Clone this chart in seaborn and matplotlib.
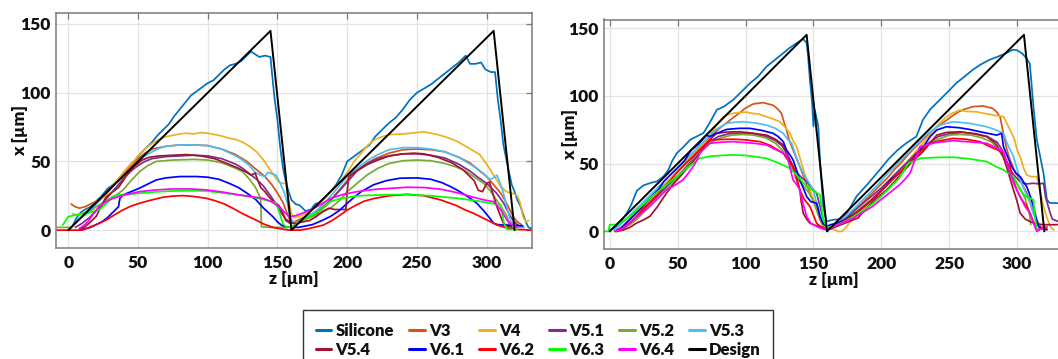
import numpy as np
import pandas as pd
import matplotlib
matplotlib.use("Agg")
import matplotlib.pyplot as plt
from matplotlib.lines import Line2D
import seaborn as sns

# ---------------- series names and colours ----------------
series_names = ["Silicone", "V3", "V4", "V5.1", "V5.2", "V5.3",
                "V5.4", "V6.1", "V6.2", "V6.3", "V6.4", "Design"]
series_colors = ["#0072BD", "#D95319", "#EDB120", "#7E2F8E", "#77AC30", "#4DBEEE",
                 "#A2142F", "#0000FF", "#FF0000", "#00FF00", "#FF00FF", "#000000"]

x_ticks = [0, 50, 100, 150, 200, 250, 300]
y_ticks = [0, 50, 100, 150]

# ---------------- design (both panels) ----------------
design_z = [0, 145, 160, 305, 320]
design_x = [0, 145, 0, 145, 0]

# ---------------- LEFT PANEL ----------------
L_silicone_z = [0, 3, 6, 9, 12, 16, 20, 24, 28, 32, 36, 40, 44, 48, 52, 56, 60, 64, 68, 72, 76, 80, 84, 88, 92, 96,
                100, 104, 108, 112, 116, 120, 124, 128, 131, 134, 137, 141, 145, 146, 148, 150, 152, 154, 156, 158,
                160, 163, 166, 170, 174, 177, 180, 184, 188, 192, 196, 200, 204, 208, 212, 216, 220, 226, 230, 235,
                240, 245, 250, 255, 260, 265, 270, 275, 280, 285, 288, 292, 296, 299, 303, 306, 308, 310, 312, 314,
                316, 318, 320, 322, 324, 326, 328, 330, 333]
L_silicone_x = [0, 3, 9, 13, 15, 17, 21, 25, 30, 33, 37, 42, 47, 51, 56, 60, 64, 69, 73, 77, 83, 88, 93, 98, 101, 104,
                107, 109, 113, 117, 120, 121, 123, 127, 130, 128, 126, 127, 126, 115, 95, 80, 60, 45, 35, 28,
                22, 19, 18, 14, 15, 19, 20, 24, 28, 33, 40, 50, 53, 56, 59, 62, 68, 74, 78, 82,
                88, 95, 100, 103, 106, 110, 114, 118, 122, 127, 121, 121, 122, 117, 115, 115, 95, 80, 62, 52,
                42, 33, 28, 22, 18, 12, 6, 2, 1]

L_v3_z = [2, 5, 8, 12, 16, 20, 24, 28, 32, 36, 40, 45, 50, 55, 60, 65, 70, 80, 90, 100, 110, 120, 128, 135, 141, 146,
          150, 154, 157, 159, 162, 166, 170, 175, 180, 185, 190, 195, 200, 205, 210, 215, 220, 230, 240, 250, 260,
          270, 280, 288, 295, 300, 305, 310, 313, 316, 319, 322, 325]
L_v3_x = [19, 17, 16, 17, 19, 21, 23, 27, 32, 37, 42, 47, 52, 56, 59, 60, 61, 62, 62, 61.5, 59, 55, 50, 44, 39, 33,
          27, 20, 12, 7, 6, 8, 10, 12, 15, 19, 24, 30, 36, 42, 46, 49, 52, 56, 58.5, 59, 58.5,
          57, 53, 49, 43, 39, 33, 27, 22, 16, 10, 6, 4]

L_v4_z = [3, 6, 10, 14, 18, 22, 26, 30, 34, 38, 42, 46, 50, 55, 60, 65, 70, 75, 80, 85, 90, 95, 100, 105, 110, 115,
          120, 125, 130, 135, 140, 144, 148, 151, 154, 156, 158, 160, 162, 166, 170, 175, 180, 185, 190, 195, 200,
          205, 210, 215, 220, 225, 230, 240, 250, 255, 260, 265, 270, 278, 285, 290, 295, 300, 305, 310, 314, 318,
          322, 324, 326, 328, 330]
L_v4_x = [12, 11, 12, 14, 17, 21, 25, 30, 35, 40, 45, 49, 54, 59, 63, 66, 68, 69, 70, 70.5, 70, 71, 70.5, 69.5, 68.5, 67,
          66, 64, 61, 57, 51, 45, 39, 35, 34, 34, 22, 12, 9, 10, 12, 15, 19, 24, 30, 35, 42,
          50, 56, 62, 66, 68, 69.5, 70, 71, 71.5, 70.5, 69.5, 68, 65, 61, 58, 55, 48, 40, 32, 28, 27,
          25, 20, 10, 6, 7]

L_v51_z = [5, 10, 15, 20, 25, 30, 35, 40, 45, 50, 55, 60, 70, 80, 90, 100, 110, 120, 125, 130, 135, 140, 145, 149, 153,
           156, 159, 163, 167, 172, 178, 185, 192, 200, 207, 215, 222, 230, 240, 250, 260, 270, 280, 288, 293, 300,
           307, 312, 317, 320, 324]
L_v51_x = [2, 5, 9, 14, 20, 26, 32, 38, 43, 47, 50, 52, 53.5, 54, 54.5, 54, 52, 48, 45, 41, 37, 32, 25, 19, 12,
           8, 6, 6, 7, 9, 12, 18, 26, 35, 43, 49, 52, 54, 55.5, 55.5, 54.5, 52.5, 48, 43, 39, 34,
           27, 20, 10, 6, 2]

L_v52_z = [-8, -2, 2, 5, 8, 12, 16, 20, 25, 30, 35, 39, 45, 51, 57, 63, 75, 90, 100, 110, 120, 125, 130, 134, 138,
           138.5, 145, 152, 158, 163, 168, 173, 180, 188, 195, 200, 207, 214, 222, 230, 240, 250, 260, 270, 278,
           285, 292, 298, 303, 307, 311, 314.6, 316, 318, 320]
L_v52_x = [2, 2, 2, 5, 8, 11, 14, 17, 20, 23, 26, 29, 36, 42.5, 47, 50, 51, 51.5, 51, 49, 45, 42.5, 37, 31.5, 23,
           2.5, 2, 2, 2, 4, 7, 9, 12, 16, 22, 28, 34, 40, 45, 48.5, 50.5, 51, 50.5, 48.5, 46,
           43, 38, 34, 28, 22, 16, 10, 4, 2, 1]

L_v53_z = [6, 10, 14, 18, 22, 26, 30, 35, 40, 45, 50, 55, 60, 65, 70, 80, 90, 100, 110, 120, 125, 130, 134, 138, 141,
           143, 146, 149, 152, 155, 157, 159, 161, 165, 170, 175, 180, 185, 190, 195, 200, 207, 215, 222, 230, 240,
           250, 260, 270, 280, 288, 293, 298, 302, 305, 307.4, 309, 312, 315, 317, 320, 325, 327]
L_v53_x = [7, 10, 13, 17, 21, 26, 30, 35, 40, 45, 50, 54, 57, 59.5, 61, 62, 62, 61.5, 59, 54, 51, 47, 42, 40, 39,
           42, 41, 40, 34, 27, 20, 10, 6, 6, 9, 12, 16, 21, 27, 33, 39, 45, 51, 55, 58.5, 60,
           60, 59, 57, 53, 48, 45, 41, 37, 38, 40, 36, 27, 15, 7, 3, 2, 2]

L_v54_z = [8, 12, 16, 20, 24, 27, 32, 36, 40, 44, 48, 53, 58, 65, 75, 85, 95, 105, 115, 122, 128, 131, 134, 136, 138,
           141, 144, 148, 151, 154, 156, 159, 163, 168, 173, 178, 183, 187, 191, 195, 199, 200, 201, 205, 210, 215,
           222, 230, 240, 248, 255, 265, 275, 283, 288, 291, 294, 297, 300, 302, 304, 307, 310, 312, 315, 318]
L_v54_x = [1, 2.5, 6, 10, 18, 24, 28, 31, 37, 43, 47, 51, 53, 54, 54.5, 55, 54, 52, 48, 45, 42, 40, 41.5, 36, 31,
           28, 24, 20, 18, 12, 7, 5, 5, 6, 7, 10, 14, 16, 15, 15, 15, 28, 39, 42, 45, 48,
           51, 54, 55.5, 56, 55.5, 53, 49, 44, 39, 36, 29, 28, 34, 35, 28, 18, 10, 5, 3, 2]

L_v61_z = [8, 12, 16, 20, 24, 28, 32, 35, 36, 37, 39, 45, 51, 57, 63, 70, 80, 92, 100, 108, 115.5, 122, 128, 134.7,
           140, 146.7, 150, 153, 156, 160, 165, 170, 175, 182, 188, 194, 200, 205, 210, 218.9, 228, 238, 250, 260,
           268, 274, 280, 287, 293, 298, 302, 305, 308, 312, 318, 322, 326]
L_v61_x = [0, 1, 2, 4, 6, 9, 13, 16, 17, 23, 25.5, 28, 30.5, 33.5, 36.5, 38, 39, 39, 38.5, 37, 34, 31, 27, 22,
           16, 9.8, 6, 3.5, 2.4, 2, 2, 3, 4, 7, 10, 14, 19.5, 24, 28, 33, 36, 37.8, 38, 37,
           34.5, 31.7, 28.5, 24, 19.5, 14, 9, 5, 4, 3.7, 3.5, 3.5, 3]

L_v62_z = [-8, 0, 5, 10, 15, 20, 27, 33, 39, 45, 51, 58, 67.7, 75, 82, 90, 98.8, 105, 112, 118, 125, 130, 134.7, 140,
           146.7, 152, 158.6, 166, 172, 178, 183, 190, 195, 200, 206, 212, 219, 230, 243, 255, 267, 278, 284,
           290.7, 297, 302, 307.4, 313, 318, 322, 333]
L_v62_x = [0, 0, 0, 0, 2, 4, 7.3, 11, 14.6, 17.5, 19.5, 21.5, 23.9, 24.8, 25.1, 24.5, 23.2, 21.5, 19, 15.9, 12, 9.5,
           7.3, 4.5, 2, 1, 0, 0, 1, 2.5, 3.7, 7.5, 11, 14.6, 18, 21, 23, 25, 26, 25, 22, 18, 15,
           12.2, 9, 6.5, 3.7, 2, 1, 0.5, 0]

L_v63_z = [-4, 0, 5, 10.3, 16, 22, 27, 31.8, 36, 42, 51, 62, 74.9, 90, 98.8, 110, 122.7, 132, 139.5, 145, 149, 151,
           153.8, 156, 160, 162, 166, 173.4, 180, 187.8, 195, 207, 220, 243, 260, 278.7, 295, 310, 311.5, 312.4,
           314.8, 322]
L_v63_x = [3.7, 9.8, 11, 12.2, 13, 14.6, 19, 24.4, 25.5, 26, 26.8, 27.8, 28.5, 28.7, 28.5, 27.2, 25.6, 24, 22.4, 21,
           19.5, 14, 4.9, 2.4, 2, 2.5, 7, 9.8, 14, 20.7, 23, 24.9, 25.5, 26, 25, 23.2, 21, 18.3, 10, 4.9,
           0.5, 0.5]

L_v64_z = [8, 12, 15, 18, 22, 27, 31.8, 40, 51, 62, 74.9, 88, 98.8, 110, 122.7, 132, 139.5, 145, 151.4, 155, 158.6,
           163, 167, 173.4, 180, 188, 197, 207, 220, 243, 255, 267, 280, 290.7, 298, 305, 310, 314.6, 318, 322]
L_v64_x = [1.2, 4, 7.3, 12, 17, 20.5, 23, 25.5, 28, 29.2, 30, 30, 29.3, 27.8, 25.6, 24.3, 23.2, 21, 17, 13, 9.8,
           10.5, 12, 14.6, 18, 23, 26, 28, 29.7, 31.2, 31, 29.8, 27, 23.9, 22, 20.7, 15, 7.3, 4, 2]

# ---------------- RIGHT PANEL ----------------
R_silicone_z = [0, 4, 8, 12.7, 16, 20, 25, 30, 35, 39.7, 43, 46, 49.5, 54, 59.3, 64, 69, 73, 78.9, 84, 91, 97, 103.4,
                109, 115.6, 121, 127.8, 132, 137.6, 142.5, 145, 146, 147.4, 149, 150, 151, 153.6, 155, 157.2, 159.7,
                164.6, 170, 175, 181.7, 190, 198.9, 205, 212, 218.5, 225.8, 230.7, 236, 243, 249, 255.2, 261, 267.4,
                273, 279.7, 286, 292, 296.8, 300, 304, 307, 309.3, 310.5, 312, 314.5, 317, 319.4, 321.9, 324, 330]
R_silicone_x = [1, 3, 7, 13.5, 20, 30, 34, 35.7, 37, 40.6, 45, 52, 57.8, 62, 67.6, 70, 72.5, 79, 89.7, 92, 97.1, 103,
                109.4, 114, 121.7, 126, 131.5, 135, 138.9, 141.9, 139, 130, 112, 95, 77.5, 89.7, 77.5, 50, 18.4, 7.4,
                8.6, 9, 14, 25.8, 35, 45.5, 53, 60, 65.2, 70, 82.4, 90, 97, 103, 109.4, 114, 119.3,
                123, 126.6, 129, 131.5, 134, 133.6, 131, 127.5, 123.8, 110, 92, 67.4, 55, 42.9, 23.3, 21, 20.8]

R_v3_z = [5, 10, 15, 20, 25, 30, 35, 40, 45, 50, 55, 60, 65, 70, 74, 78.6, 82, 86, 91, 95.8, 100, 105.7, 113, 120.4,
          124, 126.5, 128.5, 130.2, 132, 135, 140, 143.7, 146, 149.9, 152, 154.8, 157, 159.7, 163, 166, 170, 175,
          180, 185, 190, 195, 200, 205, 210, 215, 220, 225, 230, 235, 240.8, 248, 252, 256.5, 261, 267.3, 275,
          282, 285, 287.5, 289.9, 292, 294.8, 298, 302.2, 307.1, 310, 312, 315, 317, 320]
R_v3_x = [1, 4, 9, 14, 19, 24, 29, 34, 39, 44, 50, 55, 61, 66, 70, 74, 77, 80, 84, 87.5, 91, 94, 95, 93,
          90, 87, 80, 74.8, 68, 60, 47.8, 38, 32, 23.3, 17, 8.6, 4, 1.2, 2, 4, 6, 10,
          15, 20, 25, 30, 35, 40, 46, 51, 57, 62, 67, 72, 77, 82, 85, 88, 90, 92, 92.5,
          90.7, 88, 84.3, 72, 62, 52.5, 45, 38, 28.2, 20, 13.5, 7, 3.7, 2]

R_v4_z = [5, 10, 15, 20, 25, 30, 35, 40, 45, 50, 55, 60, 65, 70, 76.2, 80, 83.5, 88, 93.4, 100, 105.7, 110, 115.5,
          120, 125.3, 129, 132.7, 135, 137.6, 139.5, 141.3, 143, 145, 147, 149.9, 152, 153.6, 156, 159.7, 163, 166,
          168, 171, 174, 178, 183, 188, 193, 198, 203, 208, 213, 218, 223, 228, 233, 238, 243, 248, 252, 257.9,
          262, 270.3, 276, 282.6, 290, 294.8, 298, 300, 302.2, 305, 307, 310, 314.5, 316, 319.4, 322, 324.3, 327]
R_v4_x = [0, 3, 7, 12, 18, 24, 29, 34, 39, 45, 51, 55, 61, 66, 74.8, 80, 84.6, 86.5, 87.5, 88, 87, 86.5, 84.6,
          83, 80.9, 77, 72.3, 67, 62.5, 56, 50.2, 44, 38, 32, 23.3, 19, 15.9, 9, 3.7, 2, 1,
          0, 0, 3, 8, 13, 18, 24, 29, 34, 40, 45, 50, 56, 62, 68, 74, 80, 84.6, 87, 89.5,
          88.5, 88.2, 87, 85.8, 84.6, 74.8, 68, 60, 55, 46, 41.7, 40.4, 40.4, 33, 18.4, 10, 3.7, 1]

R_v51_z = [5, 10, 15, 20, 25, 30, 35, 40, 45, 50, 55, 60, 65, 70, 75, 80, 88, 96, 105, 115, 122, 127, 130, 133, 136,
           139, 142, 145, 148, 152.3, 155, 157.2, 159, 161, 165, 170, 176, 182, 188, 194, 200, 206, 212, 218, 224,
           230, 236, 242, 250, 260, 270, 278, 285, 289, 292, 295, 299, 303, 307, 312, 316, 319.4, 321, 324.3, 326,
           330]
R_v51_x = [0, 2, 6, 11, 16, 21, 26, 31, 36, 41, 46, 52, 58, 63, 67, 70, 72, 72.5, 72, 70, 67, 63, 58, 52, 46,
           42, 39, 36.8, 33, 28.2, 18, 8.6, 4, 2, 4, 7, 12, 17, 22, 27, 32, 38, 44, 50, 56,
           62, 66, 70, 72, 73, 72, 70, 66, 60, 52, 45, 40, 36, 35, 35.5, 35, 35.5, 25, 13.5, 9,
           7.4]

R_v52_z = [5, 10, 15, 20, 25, 30, 35, 40, 45, 50, 55, 60, 65, 70, 75, 82, 90, 98, 106, 115, 122, 127, 131, 135, 139,
           143, 147, 151, 154, 157, 160, 164, 170, 176, 182, 188, 194, 200, 206, 212, 218, 224, 230, 236, 242, 250,
           258, 266, 274, 281, 286, 290, 293, 296, 300, 303, 306, 309, 310]
R_v52_x = [0, 2, 5, 9, 14, 19, 24, 29, 34, 40, 45, 51, 57, 62, 66, 69, 71, 71.5, 71, 69, 65, 60, 53, 45, 38,
           33, 28, 20, 12, 5, 2, 3, 6, 10, 15, 20, 25, 30, 36, 42, 48, 54, 60, 65, 68, 71,
           71.5, 71, 69, 66, 61, 54, 46, 40, 35, 30, 24, 13.5, 5]

R_v53_z = [3, 8, 13, 18, 23, 28, 33, 38, 43, 48, 53, 58, 63, 68, 73, 78, 86, 92, 98.3, 107, 115.5, 122, 127.8, 131,
           134, 137, 140, 143, 146, 149.9, 152, 154.8, 157, 159.7, 163, 168, 173, 178, 183, 188, 193, 198, 203, 208,
           213, 218, 223, 228, 233, 238, 243, 253, 265, 277.6, 284, 289.9, 293, 297.3, 300, 302.2, 306, 309.6, 312,
           314.5, 317]
R_v53_x = [1, 5, 10, 15, 20, 25, 30, 35, 40, 45, 50, 55, 60, 65, 70, 75, 79.7, 80.5, 80.9, 80, 78.4, 76, 72.3, 68,
           65, 56, 47.8, 42, 37, 30.6, 22, 13.5, 7, 2.5, 3, 6, 10, 15, 20, 25, 30, 35, 41, 46,
           51, 56, 61, 66, 71, 75, 78.4, 80.9, 79.7, 77.2, 75, 72.3, 64, 55.1, 46, 38, 29, 20.8, 13,
           6.1, 2]

R_v54_z = [5, 10, 15, 19.7, 24, 29.5, 35, 41.8, 47, 54, 60, 66.3, 72, 78.6, 87, 95.8, 105, 115.5, 122, 127.8, 131,
           135, 137.5, 140, 141, 142.5, 145, 147.4, 151, 154.8, 159.7, 163, 168, 173, 178, 183, 186.7, 192, 197,
           203.9, 210, 216, 223.6, 230, 235, 240.8, 248, 258, 268, 277.6, 284, 289.9, 293, 297.3, 300, 302.2, 306,
           312, 318, 326.8, 330]
R_v54_x = [0, 1, 3, 6.1, 8, 11, 18, 28.2, 35, 43, 50, 57.6, 66, 72.3, 73.3, 73.5, 72.5, 71, 68, 63.7, 56,
           47.8, 40, 30.6, 22, 13.5, 9, 6.1, 4.5, 3.7, 1.2, 2, 4, 6, 8, 10, 14.7, 20, 25,
           30.6, 37, 44, 52.5, 58, 64, 71, 73, 73.5, 72, 69.9, 65, 55.1, 45, 30.6, 22, 13.5, 9,
           6.1, 5, 4.9, 5]

R_v61_z = [4, 8, 12, 16, 20, 24, 28, 32, 36, 40, 45, 50, 55, 60, 65, 71.3, 73.7, 78, 86, 95, 103.2, 112, 120.4, 124,
           127.8, 130.2, 133, 135, 138, 140, 142.5, 145, 148, 152.3, 154.8, 157, 159.7, 163, 167, 172, 177, 182,
           187, 192, 197, 202, 207, 212, 217, 222, 227, 232, 236, 240.8, 248, 257, 265, 275, 285, 288.6, 289.9,
           293, 296, 299, 302.2, 305, 307.1, 310, 312, 314, 315.7, 318, 322]
R_v61_x = [0, 2, 6, 10, 14, 18, 23, 27, 31, 37, 42, 47, 52, 60, 64, 71, 69.9, 72, 75.2, 76, 76, 74.5, 72.3, 70,
           66.2, 60, 56, 52.7, 44, 38, 32, 25.7, 22, 20.8, 11, 6, 3.7, 5, 6, 8, 11, 14,
           18, 22, 27, 32, 38, 42, 46, 52, 58, 64, 70, 74.8, 77.2, 76.5, 75.2, 73, 71, 72.3, 62.5,
           55, 47.8, 43, 40.4, 36, 33, 25, 18.4, 10, 3.7, 2, 1.2]

R_v62_z = [4, 8, 12, 16, 20, 24, 28, 32, 36, 40, 45, 50, 55, 60, 65, 70, 73.7, 82, 91, 100, 110.6, 118, 124, 127.8,
           131, 135, 137, 140, 143, 147.4, 150, 152.3, 156, 159.7, 163, 168, 173, 178, 183, 188, 193, 198, 203,
           208, 213, 218, 223, 228, 232, 235.9, 244, 253, 262, 272.5, 281, 286, 289.9, 292, 294.8, 297, 299.8, 303,
           307.1, 310, 312, 314.5, 318, 322]
R_v62_x = [0, 1, 4, 7, 11, 16, 20, 24, 28, 33, 38, 44, 49, 54, 59, 64, 67.4, 67.8, 68, 67.5, 66.2, 63.5, 60, 57.6,
           53, 47.8, 40, 30.6, 24, 18.4, 12, 6.1, 3, 1.2, 3, 5, 8, 11, 15, 19, 23, 28, 33,
           38, 43, 48, 53, 58, 62, 65, 67, 68.6, 68, 66.2, 62, 60, 57.6, 52, 47.8, 38, 30.6, 24,
           18.4, 12, 7, 1.2, 2, 2.5]

R_v63_z = [-4, -1, 0, 4, 8, 12, 16, 20, 25, 30, 35, 40, 45, 50, 55, 60, 66.3, 75, 85, 91, 100, 108, 115.5, 124,
           132.7, 139, 145, 150, 154.8, 156, 157.2, 159.7, 163, 168, 173, 178, 183, 188, 193, 198, 203, 208, 213,
           216, 220, 228.5, 240, 253, 265, 277.6, 284, 289.9, 297.3, 300, 302.2, 306, 312, 313, 314.5, 316]
R_v63_x = [0, 0, 4.9, 5, 6, 9, 12, 16, 20, 25, 29, 33, 37, 41, 45, 49, 53.9, 55.5, 56.2, 56.4, 56, 55, 53.9, 50.5,
           46.6, 40, 33, 30, 27, 18, 8.6, 3.7, 3, 5, 7, 10, 13, 16, 20, 24, 29, 34, 39,
           44, 50.2, 53.9, 54.5, 54.7, 53.5, 51.5, 48, 45.3, 40.4, 35, 30.6, 26, 23.3, 12, 1.2, 1]

R_v64_z = [4, 7.4, 12, 17.2, 23, 29.5, 35, 41.8, 48, 54, 58, 61.4, 64, 66.3, 73.7, 82, 91, 100, 108, 115.5, 123,
           130.2, 132, 135, 138, 140, 142, 145, 148, 152.3, 156, 159.7, 163, 168, 173, 178, 183, 188, 193, 198,
           203, 208, 213, 217, 221.1, 223, 226, 228.5, 240, 253, 265, 277.6, 284, 289.9, 292, 294.8, 298, 302.2,
           306, 309.6, 312, 314.5, 318, 322]
R_v64_x = [0, 1.2, 4, 8.6, 13, 18.4, 24, 30.6, 34, 38, 43, 47.8, 52, 57.6, 65, 65.8, 66.2, 65.5, 64.8, 63.7, 60,
           56.4, 50, 38, 34, 30.6, 22, 11, 6, 3.7, 2, 1.2, 3, 5, 7, 9, 12, 15, 18, 22,
           26, 30, 34, 38, 42.9, 48, 56, 62.5, 65.5, 66.9, 66, 65, 62, 58.8, 52, 42.9, 34, 25.7,
           18, 13.5, 6, 0, 2, 3.7]

left_data = {
    "Silicone": (L_silicone_z, L_silicone_x), "V3": (L_v3_z, L_v3_x), "V4": (L_v4_z, L_v4_x),
    "V5.1": (L_v51_z, L_v51_x), "V5.2": (L_v52_z, L_v52_x), "V5.3": (L_v53_z, L_v53_x),
    "V5.4": (L_v54_z, L_v54_x), "V6.1": (L_v61_z, L_v61_x), "V6.2": (L_v62_z, L_v62_x),
    "V6.3": (L_v63_z, L_v63_x), "V6.4": (L_v64_z, L_v64_x), "Design": (design_z, design_x),
}
right_data = {
    "Silicone": (R_silicone_z, R_silicone_x), "V3": (R_v3_z, R_v3_x), "V4": (R_v4_z, R_v4_x),
    "V5.1": (R_v51_z, R_v51_x), "V5.2": (R_v52_z, R_v52_x), "V5.3": (R_v53_z, R_v53_x),
    "V5.4": (R_v54_z, R_v54_x), "V6.1": (R_v61_z, R_v61_x), "V6.2": (R_v62_z, R_v62_x),
    "V6.3": (R_v63_z, R_v63_x), "V6.4": (R_v64_z, R_v64_x), "Design": (design_z, design_x),
}


def to_frame(d):
    rows = []
    for name in series_names:
        zs, xs = d[name]
        for i, (z, x) in enumerate(zip(zs, xs)):
            rows.append({"series": name, "z": z, "x": x, "idx": i})
    return pd.DataFrame(rows)


sns.set_theme(style="white")
FONT = ["Lato", "DejaVu Sans"]
plt.rcParams["font.family"] = FONT
plt.rcParams["font.weight"] = "heavy"
plt.rcParams["axes.labelweight"] = "heavy"

fig = plt.figure(figsize=(10.58, 3.59), dpi=100)
ax_l = fig.add_axes([56 / 1058, 1 - 248 / 359, (532 - 56) / 1058, (248 - 13) / 359])
ax_r = fig.add_axes([604 / 1058, 1 - 249 / 359, (1064 - 604) / 1058, (249 - 19.5) / 359])

palette = dict(zip(series_names, series_colors))
spine_col = "#7a7a7a"
TXT = "#111111"


def style_axis(ax, xlim, ylim, ylabel_x):
    ax.set_xlim(*xlim)
    ax.set_ylim(*ylim)
    ax.set_xticks(x_ticks)
    ax.set_yticks(y_ticks)
    ax.grid(True, color="#e3e3e3", linewidth=0.9)
    ax.set_axisbelow(True)
    for s in ax.spines.values():
        s.set_color(spine_col)
        s.set_linewidth(1.1)
    ax.tick_params(direction="in", length=4, width=0.9, color=spine_col, top=True, right=True,
                   labelsize=12.5, labelcolor=TXT, pad=4)
    ax.tick_params(axis="x", pad=5)
    for lab in ax.get_xticklabels() + ax.get_yticklabels():
        lab.set_fontweight("heavy")
    ax.set_xlabel("z [µm]", fontsize=12.5, fontweight="heavy", color=TXT, labelpad=0)
    ax.set_ylabel("x [µm]", fontsize=12.5, fontweight="heavy", color=TXT)
    ax.yaxis.set_label_coords(ylabel_x, 0.5)


for ax, d, xlim, ylim, lx in [(ax_l, left_data, (-8.8, 332.5), (-13, 158), -(56 - 28) / 476),
                              (ax_r, right_data, (-4.2, 334.5), (-13, 156.3), -(604 - 578) / 460)]:
    df = to_frame(d)
    sns.lineplot(data=df, x="z", y="x", hue="series", hue_order=series_names, palette=palette,
                 sort=False, estimator=None, linewidth=1.25, legend=False, ax=ax)
    for line, name in zip(ax.get_lines(), series_names):
        if name == "Design":
            line.set_linewidth(1.4)
    style_axis(ax, xlim, ylim, lx)

# legend: rows read Silicone..V5.3 / V5.4..Design -> column-major ordering
order = []
for c in range(6):
    order += [c, c + 6]
handles = [Line2D([], [], color=series_colors[i], linewidth=2.2) for i in order]
labels = [series_names[i] for i in order]
leg = fig.legend(handles, labels, ncol=6, loc="upper left", bbox_to_anchor=(303 / 1058, 1 - 310 / 359),
                 frameon=True, fancybox=False, edgecolor="#333333", framealpha=1,
                 handlelength=0.95, handletextpad=0.25, columnspacing=0.9, labelspacing=0.22,
                 borderpad=0.75, borderaxespad=0.0, prop={"family": FONT, "weight": "heavy", "size": 12})
leg.get_frame().set_linewidth(1.0)
for t in leg.get_texts():
    t.set_color(TXT)

fig.savefig("out.png", dpi=100)
